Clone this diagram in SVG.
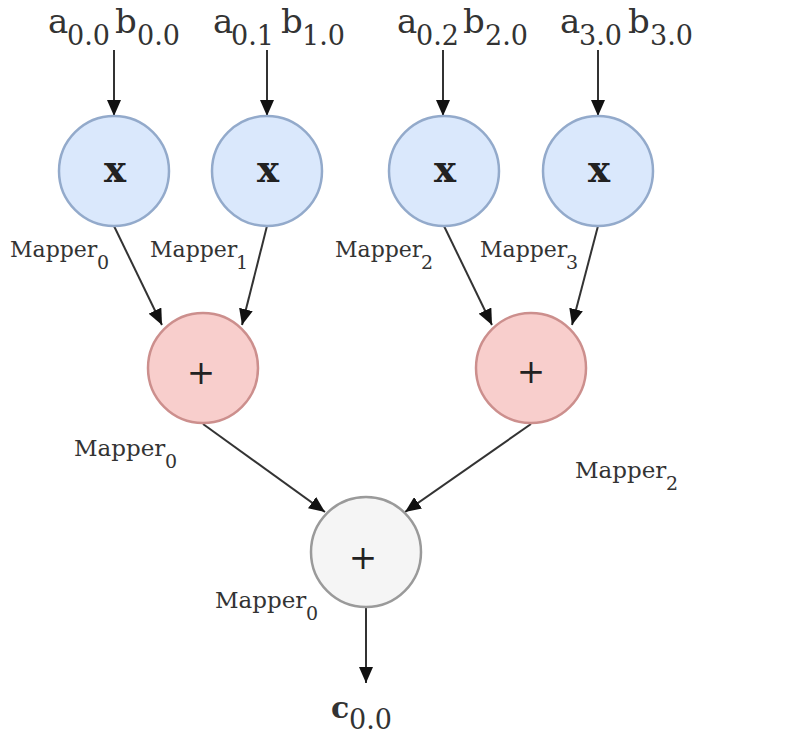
<svg xmlns="http://www.w3.org/2000/svg" width="788" height="747" viewBox="0 0 788 747">
<defs>
<marker id="ah" markerUnits="userSpaceOnUse" viewBox="0 0 16 14" refX="16" refY="7" markerWidth="16" markerHeight="14" orient="auto">
<path d="M0,0 L16,7 L0,14 z" fill="#111"/>
</marker>
<style>
text{font-family:"DejaVu Serif","Liberation Serif",serif;}
.lbl{fill:#333;}
.top{font-size:34px;}
.sub{font-size:27px;}
.map{fill:#333;font-size:22px;}
.map2{fill:#333;font-size:23px;}
.msub{font-size:19px;}
.mul{fill:#dae8fc;stroke:#93aacb;stroke-width:2.5;}
.add{fill:#f8cecc;stroke:#cc8f8d;stroke-width:2.5;}
.fin{fill:#f5f5f5;stroke:#9a9a9a;stroke-width:2.5;}
.op{fill:#222;text-anchor:middle;}
.edge{stroke:#333;stroke-width:2;fill:none;marker-end:url(#ah);}
</style>
</defs>
<rect width="788" height="747" fill="#fff"/>

<g id="inputs" class="lbl">
<text class="top" y="33"><tspan x="48">a</tspan><tspan class="sub" x="67" y="45">0.0</tspan><tspan x="115" y="33">b</tspan><tspan class="sub" x="137" y="45">0.0</tspan></text>
<text class="top" y="33"><tspan x="213">a</tspan><tspan class="sub" x="231" y="45">0.1</tspan><tspan x="281" y="33">b</tspan><tspan class="sub" x="302" y="45">1.0</tspan></text>
<text class="top" y="33"><tspan x="397">a</tspan><tspan class="sub" x="416" y="45">0.2</tspan><tspan x="463" y="33">b</tspan><tspan class="sub" x="485" y="45">2.0</tspan></text>
<text class="top" y="33"><tspan x="560">a</tspan><tspan class="sub" x="579" y="45">3.0</tspan><tspan x="628" y="33">b</tspan><tspan class="sub" x="650" y="45">3.0</tspan></text>
</g>

<g id="connectors">
<line class="edge" x1="114" y1="50" x2="114" y2="116"/>
<line class="edge" x1="267" y1="50" x2="267" y2="116"/>
<line class="edge" x1="443" y1="50" x2="443" y2="116"/>
<line class="edge" x1="598" y1="50" x2="598" y2="116"/>
<line class="edge" x1="114" y1="226" x2="162" y2="325"/>
<line class="edge" x1="267" y1="226" x2="242" y2="325"/>
<line class="edge" x1="444" y1="226" x2="492" y2="325"/>
<line class="edge" x1="598" y1="226" x2="572" y2="325"/>
<line class="edge" x1="203" y1="424" x2="325" y2="512"/>
<line class="edge" x1="531" y1="424" x2="405" y2="512"/>
<line class="edge" x1="366" y1="608" x2="366" y2="683"/>
</g>

<g id="mul0"><circle class="mul" cx="114" cy="171" r="55"/><text class="op" x="115" y="182" font-size="37" font-weight="bold">x</text></g>
<g id="mul1"><circle class="mul" cx="267" cy="171" r="55"/><text class="op" x="268" y="182" font-size="37" font-weight="bold">x</text></g>
<g id="mul2"><circle class="mul" cx="444" cy="171" r="55"/><text class="op" x="445" y="182" font-size="37" font-weight="bold">x</text></g>
<g id="mul3"><circle class="mul" cx="598" cy="171" r="55"/><text class="op" x="599" y="182" font-size="37" font-weight="bold">x</text></g>

<g id="add0"><circle class="add" cx="203" cy="368" r="55"/><text class="op" x="201" y="384" font-size="34">+</text></g>
<g id="add1"><circle class="add" cx="531" cy="368" r="55"/><text class="op" x="531" y="383" font-size="34">+</text></g>
<g id="final"><circle class="fin" cx="366" cy="552" r="55"/><text class="op" x="363" y="569" font-size="34">+</text></g>

<g id="mapper-labels">
<text class="map" y="257"><tspan x="10">Mapper</tspan><tspan class="msub" x="97" y="269">0</tspan></text>
<text class="map" y="257"><tspan x="150">Mapper</tspan><tspan class="msub" x="236" y="269">1</tspan></text>
<text class="map" y="257"><tspan x="335">Mapper</tspan><tspan class="msub" x="421" y="269">2</tspan></text>
<text class="map" y="257"><tspan x="480">Mapper</tspan><tspan class="msub" x="566" y="269">3</tspan></text>
<text class="map2" y="456"><tspan x="74">Mapper</tspan><tspan class="msub" x="165" y="468">0</tspan></text>
<text class="map2" y="478"><tspan x="575">Mapper</tspan><tspan class="msub" x="666" y="490">2</tspan></text>
<text class="map2" y="608"><tspan x="215">Mapper</tspan><tspan class="msub" x="306" y="620">0</tspan></text>
</g>

<g id="output" class="lbl">
<text class="top" y="718"><tspan x="331" font-size="30" font-weight="bold">c</tspan><tspan class="sub" x="349" y="729">0.0</tspan></text>
</g>
</svg>
